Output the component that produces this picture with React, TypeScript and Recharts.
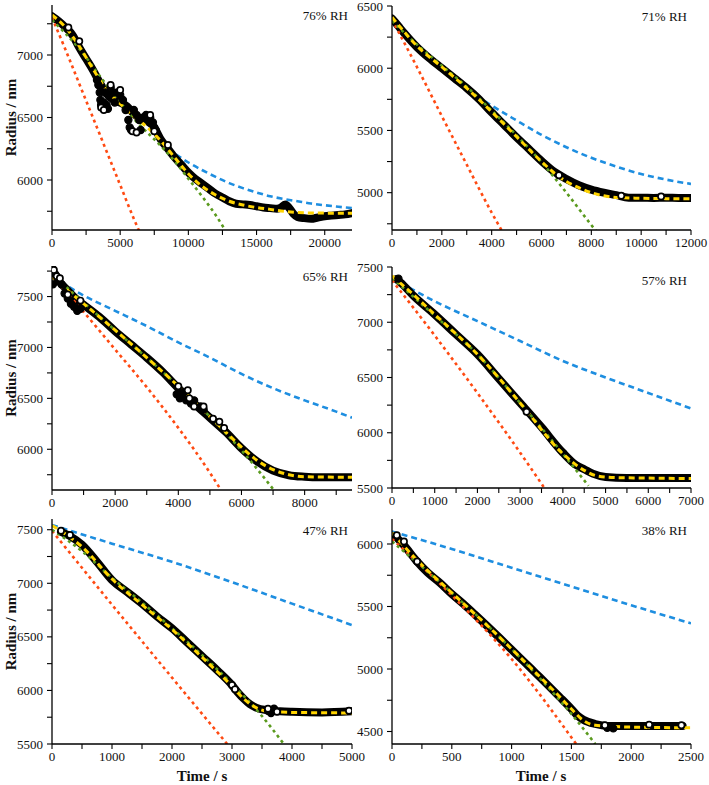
import React from 'react';
import { ComposedChart, Line, Scatter, XAxis, YAxis } from 'recharts';

type Pt = [number, number];

// ---------- Panel 1 : 76% RH ----------
const P1_DATA: Pt[] = [[0,7310],[500,7270],[1000,7220],[1500,7160],[2000,7060],[2500,6970],[3000,6880],[3500,6780],[4000,6690],[4500,6640],[5000,6620],[5500,6590],[6000,6530],[6500,6490],[7000,6470],[7500,6420],[8000,6320],[8500,6250],[9000,6180],[9500,6120],[10000,6060],[10500,6010],[11000,5970],[11500,5930],[12000,5890],[12500,5860],[13000,5830],[13500,5810],[14000,5805],[14500,5800],[15000,5790],[15500,5780],[16000,5775],[16500,5770],[16800,5780],[17100,5805],[17400,5775],[17700,5730],[18000,5705],[18500,5695],[19000,5690],[19500,5700],[20000,5710],[20500,5715],[21000,5720],[21500,5725],[22000,5735]];
const P1_NOISE: Pt[] = [[3300,6800],[3400,6760],[3500,6700],[3550,6640],[3600,6600],[3700,6580],[3800,6620],[3900,6700],[4000,6600],[4100,6570],[4200,6680],[4300,6740],[4500,6700],[4600,6620],[4800,6700],[5000,6680],[5200,6640],[5400,6560],[5600,6480],[5700,6420],[5800,6400],[6000,6560],[6200,6520],[6400,6480],[6500,6400],[6700,6500],[6900,6520],[7100,6480],[7200,6500],[7400,6460],[7500,6420],[7600,6400]];
const P1_OPEN: Pt[] = [[1200,7220],[2000,7110],[3600,6580],[3800,6560],[4300,6760],[5000,6720],[5900,6390],[6200,6380],[7200,6520],[7500,6390],[8500,6280]];
const P1_FIT: Pt[] = [[0,7320],[1000,7220],[2000,7070],[3000,6890],[4000,6720],[5000,6610],[6000,6510],[7000,6420],[8000,6310],[9000,6180],[10000,6050],[11000,5950],[12000,5880],[13000,5830],[14000,5800],[15000,5780],[16000,5765],[17000,5750],[18000,5740],[20000,5735],[22000,5735]];
const P1_GREEN: Pt[] = [[0,7280],[2000,7050],[4000,6760],[6000,6490],[8000,6270],[9000,6150],[10000,6010],[11000,5870],[12000,5720],[12700,5600]];
const P1_RED: Pt[] = [[0,7300],[1000,7040],[2000,6770],[3000,6500],[4000,6230],[5000,5960],[6000,5690],[6400,5590]];
const P1_BLUE: Pt[] = [[8500,6250],[10000,6140],[11000,6080],[12000,6025],[13000,5975],[14000,5935],[15000,5900],[16000,5870],[17000,5848],[18000,5830],[19000,5812],[20000,5798],[21000,5786],[22000,5776]];
const P1_XTICKS = [0,2500,5000,7500,10000,12500,15000,17500,20000];
const P1_YTICKS = [5750,6000,6250,6500,6750,7000,7250];

// ---------- Panel 2 : 71% RH ----------
const P2_DATA: Pt[] = [[0,6400],[250,6340],[500,6280],[1000,6170],[1500,6080],[2000,6000],[2500,5920],[3000,5840],[3500,5750],[4000,5645],[4500,5545],[5000,5445],[5500,5350],[6000,5255],[6500,5170],[7000,5110],[7500,5060],[8000,5025],[8500,5000],[9000,4980],[9500,4960],[10000,4960],[10500,4958],[11000,4960],[11500,4958],[12000,4958]];
const P2_NOISE: Pt[] = [];
const P2_OPEN: Pt[] = [[6700,5140],[9200,4975],[10800,4970]];
const P2_FIT: Pt[] = [[0,6410],[500,6290],[1000,6180],[2000,6010],[3000,5840],[4000,5650],[5000,5450],[6000,5250],[6500,5160],[7000,5090],[7500,5040],[8000,5000],[8500,4975],[9000,4962],[10000,4955],[11000,4952],[12000,4950]];
const P2_GREEN: Pt[] = [[0,6380],[1000,6190],[2000,6020],[3000,5850],[4000,5660],[5000,5460],[6000,5245],[7000,5000],[8000,4740],[8200,4690]];
const P2_RED: Pt[] = [[0,6390],[1000,6010],[2000,5615],[3000,5225],[4000,4840],[4450,4680]];
const P2_BLUE: Pt[] = [[3400,5780],[4000,5700],[5000,5580],[6000,5465],[7000,5365],[8000,5280],[9000,5210],[10000,5150],[11000,5105],[12000,5070]];
const P2_XTICKS = [0,1000,2000,3000,4000,5000,6000,7000,8000,9000,10000,11000,12000];
const P2_YTICKS = [4750,5000,5250,5500,5750,6000,6250,6500];

// ---------- Panel 3 : 65% RH ----------
const P3_DATA: Pt[] = [[0,7720],[100,7700],[250,7640],[500,7560],[750,7480],[1000,7420],[1500,7300],[2000,7160],[2500,7030],[3000,6900],[3500,6760],[4000,6600],[4500,6450],[5000,6310],[5500,6170],[6000,6010],[6250,5940],[6500,5880],[7000,5790],[7500,5745],[8000,5730],[8500,5725],[9500,5725]];
const P3_NOISE: Pt[] = [[0,7780],[30,7620],[100,7720],[200,7660],[300,7620],[400,7530],[500,7480],[600,7430],[700,7400],[800,7360],[900,7380],[3950,6540],[4050,6500],[4150,6560],[4250,6480],[4400,6450],[4500,6480],[4700,6420],[4800,6390]];
const P3_OPEN: Pt[] = [[60,7760],[150,7700],[250,7680],[500,7520],[900,7460],[4000,6620],[4300,6580],[4350,6500],[4500,6420],[4800,6420],[5100,6300],[5300,6270],[5450,6210]];
const P3_FIT: Pt[] = [[0,7700],[500,7560],[1000,7430],[2000,7170],[3000,6900],[4000,6620],[5000,6320],[5500,6170],[6000,6020],[6500,5890],[7000,5800],[7500,5750],[8000,5730],[9500,5725]];
const P3_GREEN: Pt[] = [[0,7720],[1000,7440],[2000,7170],[3000,6900],[4000,6620],[5000,6320],[6000,5990],[7000,5610]];
const P3_RED: Pt[] = [[0,7700],[1000,7350],[2000,6980],[3000,6610],[4000,6210],[5000,5770],[5350,5600]];
const P3_BLUE: Pt[] = [[0,7690],[500,7600],[1000,7510],[2000,7360],[3000,7210],[4000,7050],[5000,6900],[6000,6740],[7000,6600],[8000,6480],[9000,6370],[9500,6310]];
const P3_XTICKS = [0,1000,2000,3000,4000,5000,6000,7000,8000,9000];
const P3_YTICKS = [5750,6000,6250,6500,6750,7000,7250,7500,7750];

// ---------- Panel 4 : 57% RH ----------
const P4_DATA: Pt[] = [[100,7390],[200,7360],[500,7240],[1000,7070],[1500,6890],[2000,6710],[2500,6490],[3000,6270],[3500,6050],[4000,5820],[4300,5710],[4500,5670],[4700,5630],[5000,5600],[5500,5590],[6000,5590],[7000,5590]];
const P4_NOISE: Pt[] = [[150,7395]];
const P4_OPEN: Pt[] = [[3150,6190]];
const P4_FIT: Pt[] = [[0,7420],[500,7250],[1000,7070],[2000,6710],[3000,6270],[4000,5810],[4500,5660],[4800,5610],[5200,5595],[6000,5590],[7000,5585]];
const P4_GREEN: Pt[] = [[0,7400],[1000,7060],[2000,6710],[3000,6270],[4000,5810],[4600,5520]];
const P4_RED: Pt[] = [[0,7380],[1000,6880],[2000,6360],[3000,5820],[3550,5510]];
const P4_BLUE: Pt[] = [[0,7400],[1000,7190],[2000,7010],[3000,6830],[4000,6650],[5000,6500],[6000,6360],[7000,6220]];
const P4_XTICKS = [0,500,1000,1500,2000,2500,3000,3500,4000,4500,5000,5500,6000,6500,7000];
const P4_YTICKS = [5500,5750,6000,6250,6500,6750,7000,7250,7500];

// ---------- Panel 5 : 47% RH ----------
const P5_DATA: Pt[] = [[150,7480],[300,7440],[500,7360],[750,7200],[1000,7030],[1250,6920],[1500,6810],[1750,6690],[2000,6580],[2250,6450],[2500,6320],[2750,6190],[3000,6050],[3100,5980],[3200,5920],[3300,5870],[3400,5840],[3600,5815],[3800,5805],[4000,5800],[4500,5795],[5000,5805]];
const P5_NOISE: Pt[] = [[3600,5810],[3650,5790],[3700,5830]];
const P5_OPEN: Pt[] = [[150,7490],[300,7450],[3000,6050],[3050,6010],[3600,5830],[3750,5800],[4950,5810]];
const P5_FIT: Pt[] = [[0,7540],[250,7450],[500,7340],[1000,7040],[1500,6800],[2000,6570],[2500,6310],[3000,6040],[3200,5920],[3400,5840],[3600,5805],[4000,5795],[5000,5790]];
const P5_GREEN: Pt[] = [[0,7500],[500,7300],[1000,7050],[1500,6820],[2000,6580],[2500,6330],[3000,6060],[3500,5760],[3850,5510]];
const P5_RED: Pt[] = [[0,7490],[1000,6800],[2000,6120],[2920,5500]];
const P5_BLUE: Pt[] = [[0,7545],[1000,7370],[2000,7200],[3000,7010],[4000,6810],[5000,6610]];
const P5_XTICKS = [0,500,1000,1500,2000,2500,3000,3500,4000,4500,5000];
const P5_YTICKS = [5500,5750,6000,6250,6500,6750,7000,7250,7500];

// ---------- Panel 6 : 38% RH ----------
const P6_DATA: Pt[] = [[30,6060],[100,5990],[200,5870],[300,5770],[400,5690],[500,5600],[600,5518],[700,5430],[800,5340],[900,5248],[1000,5155],[1100,5062],[1200,4968],[1300,4874],[1400,4778],[1500,4680],[1550,4628],[1600,4594],[1700,4560],[1800,4545],[2000,4545],[2200,4545],[2430,4545]];
const P6_NOISE: Pt[] = [[1800,4530],[1850,4525]];
const P6_OPEN: Pt[] = [[40,6070],[100,6020],[210,5860],[1780,4550],[2150,4555],[2420,4550]];
const P6_FIT: Pt[] = [[0,6090],[200,5880],[500,5610],[800,5345],[1000,5160],[1200,4972],[1400,4780],[1500,4680],[1600,4588],[1700,4550],[2000,4535],[2500,4530]];
const P6_GREEN: Pt[] = [[0,6020],[500,5610],[1000,5160],[1500,4640],[1700,4400]];
const P6_RED: Pt[] = [[0,6040],[500,5590],[1000,5080],[1540,4400]];
const P6_BLUE: Pt[] = [[0,6100],[500,5960],[1000,5810],[1500,5660],[2000,5510],[2500,5365]];
const P6_XTICKS = [0,250,500,750,1000,1250,1500,1750,2000,2250,2500];
const P6_YTICKS = [4500,4750,5000,5250,5500,5750,6000];

const RH_LABELS = ['76% RH', '71% RH', '65% RH', '57% RH', '47% RH', '38% RH'];
const X_TITLE = 'Time / s';
const Y_TITLE = 'Radius / nm';

const FONT = "'Liberation Serif', 'Times New Roman', Times, serif";
const BLUE = '#1E8EE0';
const RED = '#FF4A12';
const GREEN = '#5A9A1E';
const YELLOW = '#FFD400';

const mk = (pts: Pt[]) => pts.map(([t, r]) => ({ t, r }));

interface Spec {
  label: string;
  data: Pt[]; noise: Pt[]; open: Pt[]; fit: Pt[]; green: Pt[]; red: Pt[]; blue: Pt[];
  xDomain: [number, number]; yDomain: [number, number];
  xTicks: number[]; yTicks: number[]; xMajor: number; yMajor: number;
  left: number; plotTop: number; plotBottom: number; yAxisWidth: number;
  labelDy: number;
}

const MARGIN_TOP = 10;
const X_AXIS_H = 30;
const LEFT_W = 380;
const RIGHT_W = 366;

const SPECS: Spec[] = [
  { label: RH_LABELS[0], data: P1_DATA, noise: P1_NOISE, open: P1_OPEN, fit: P1_FIT, green: P1_GREEN, red: P1_RED, blue: P1_BLUE,
    xDomain: [0, 22000], yDomain: [5600, 7400], xTicks: P1_XTICKS, yTicks: P1_YTICKS, xMajor: 5000, yMajor: 500,
    left: 0, plotTop: 5, plotBottom: 230, yAxisWidth: 52, labelDy: 15 },
  { label: RH_LABELS[1], data: P2_DATA, noise: P2_NOISE, open: P2_OPEN, fit: P2_FIT, green: P2_GREEN, red: P2_RED, blue: P2_BLUE,
    xDomain: [0, 12000], yDomain: [4700, 6500], xTicks: P2_XTICKS, yTicks: P2_YTICKS, xMajor: 2000, yMajor: 500,
    left: 352, plotTop: 6, plotBottom: 230, yAxisWidth: 40, labelDy: 15 },
  { label: RH_LABELS[2], data: P3_DATA, noise: P3_NOISE, open: P3_OPEN, fit: P3_FIT, green: P3_GREEN, red: P3_RED, blue: P3_BLUE,
    xDomain: [0, 9500], yDomain: [5600, 7800], xTicks: P3_XTICKS, yTicks: P3_YTICKS, xMajor: 2000, yMajor: 500,
    left: 0, plotTop: 266, plotBottom: 490, yAxisWidth: 52, labelDy: 15 },
  { label: RH_LABELS[3], data: P4_DATA, noise: P4_NOISE, open: P4_OPEN, fit: P4_FIT, green: P4_GREEN, red: P4_RED, blue: P4_BLUE,
    xDomain: [0, 7000], yDomain: [5500, 7500], xTicks: P4_XTICKS, yTicks: P4_YTICKS, xMajor: 1000, yMajor: 500,
    left: 352, plotTop: 267, plotBottom: 488, yAxisWidth: 40, labelDy: 18 },
  { label: RH_LABELS[4], data: P5_DATA, noise: P5_NOISE, open: P5_OPEN, fit: P5_FIT, green: P5_GREEN, red: P5_RED, blue: P5_BLUE,
    xDomain: [0, 5000], yDomain: [5500, 7600], xTicks: P5_XTICKS, yTicks: P5_YTICKS, xMajor: 1000, yMajor: 500,
    left: 0, plotTop: 519, plotBottom: 744, yAxisWidth: 52, labelDy: 16 },
  { label: RH_LABELS[5], data: P6_DATA, noise: P6_NOISE, open: P6_OPEN, fit: P6_FIT, green: P6_GREEN, red: P6_RED, blue: P6_BLUE,
    xDomain: [0, 2500], yDomain: [4400, 6200], xTicks: P6_XTICKS, yTicks: P6_YTICKS, xMajor: 500, yMajor: 500,
    left: 352, plotTop: 519, plotBottom: 744, yAxisWidth: 40, labelDy: 16 },
];

const tickStyle = { fontSize: 13, fill: '#111', fontFamily: FONT };

const filledShape = (props: any) => (
  <circle cx={props.cx} cy={props.cy} r={3.6} fill="#000" stroke="#000" strokeWidth={1.2} />
);
const openShape = (props: any) => (
  <circle cx={props.cx} cy={props.cy} r={3.1} fill="#fff" stroke="#000" strokeWidth={1.7} />
);

const plotRightOf = (s: Spec) => (s.left === 0 ? 352 : 691);

function Panel({ s }: { s: Spec }) {
  const width = s.left === 0 ? LEFT_W : RIGHT_W;
  const rightMargin = width - (plotRightOf(s) - s.left);
  const top = s.plotTop - MARGIN_TOP;
  const height = s.plotBottom - top + X_AXIS_H;
  return (
    <div style={{ position: 'absolute', left: s.left, top, fontFamily: FONT }}>
      <ComposedChart width={width} height={height}
        margin={{ top: MARGIN_TOP, right: rightMargin, bottom: 0, left: 0 }}>
        <XAxis dataKey="t" type="number" domain={s.xDomain} ticks={s.xTicks} interval={0}
          allowDataOverflow height={X_AXIS_H} tickSize={5} tickMargin={3}
          tickFormatter={(v: number) => (v % s.xMajor === 0 ? String(v) : '')}
          tick={tickStyle} axisLine={{ stroke: '#000', strokeWidth: 1.3 }} tickLine={{ stroke: '#000', strokeWidth: 1.1 }} />
        <XAxis xAxisId="top" orientation="top" type="number" domain={s.xDomain} height={0}
          tick={false} tickLine={false} axisLine={{ stroke: '#000', strokeWidth: 1.3 }} />
        <YAxis dataKey="r" type="number" domain={s.yDomain} ticks={s.yTicks} interval={0}
          allowDataOverflow width={s.yAxisWidth} tickSize={5} tickMargin={4}
          tickFormatter={(v: number) => (v % s.yMajor === 0 ? String(v) : '')}
          tick={tickStyle} axisLine={{ stroke: '#000', strokeWidth: 1.3 }} tickLine={{ stroke: '#000', strokeWidth: 1.1 }} />
        <YAxis yAxisId="right" orientation="right" type="number" domain={s.yDomain} width={0}
          tick={false} tickLine={false} axisLine={{ stroke: '#000', strokeWidth: 1.3 }} />
        <Line data={mk(s.blue)} dataKey="r" type="monotone" stroke={BLUE} strokeWidth={2.6}
          strokeDasharray="6 4" dot={false} activeDot={false} isAnimationActive={false} />
        <Line data={mk(s.data)} dataKey="r" type="monotone" stroke="#000" strokeWidth={8}
          strokeLinecap="round" strokeLinejoin="round" dot={false} activeDot={false} isAnimationActive={false} />
        <Scatter data={mk(s.noise)} dataKey="r" shape={filledShape} isAnimationActive={false} />
        <Scatter data={mk(s.open)} dataKey="r" shape={openShape} isAnimationActive={false} />
        <Line data={mk(s.red)} dataKey="r" type="monotone" stroke={RED} strokeWidth={2.6}
          strokeDasharray="3 3.5" dot={false} activeDot={false} isAnimationActive={false} />
        <Line data={mk(s.green)} dataKey="r" type="monotone" stroke={GREEN} strokeWidth={2.6}
          strokeDasharray="3 3.5" dot={false} activeDot={false} isAnimationActive={false} />
        <Line data={mk(s.fit)} dataKey="r" type="monotone" stroke={YELLOW} strokeWidth={3}
          strokeDasharray="6 4" dot={false} activeDot={false} isAnimationActive={false} />
      </ComposedChart>
    </div>
  );
}

export default function App() {
  return (
    <div style={{ position: 'absolute', left: 0, top: 0, width: 709, height: 785, overflow: 'hidden', background: '#fff', fontFamily: FONT }}>
      {SPECS.map((s, i) => <Panel key={i} s={s} />)}
      <svg width={709} height={785} style={{ position: 'absolute', left: 0, top: 0, pointerEvents: 'none' }}>
        {SPECS.map((s, i) => (
          <text key={'rh' + i} x={plotRightOf(s) - 4} y={s.plotTop + s.labelDy} textAnchor="end"
            style={{ fontFamily: FONT, fontSize: 13 }} fill="#111">{s.label}</text>
        ))}
        {SPECS.filter((s) => s.left === 0).map((s, i) => {
          const cy = (s.plotTop + s.plotBottom) / 2;
          return (
            <text key={'yt' + i} x={11} y={cy} transform={`rotate(-90 11 ${cy})`} textAnchor="middle"
              dominantBaseline="central" style={{ fontFamily: FONT, fontWeight: 'bold', fontSize: 15 }} fill="#111">{Y_TITLE}</text>
          );
        })}
        <text x={202} y={781} textAnchor="middle" style={{ fontFamily: FONT, fontWeight: 'bold', fontSize: 15 }} fill="#111">{X_TITLE}</text>
        <text x={541} y={781} textAnchor="middle" style={{ fontFamily: FONT, fontWeight: 'bold', fontSize: 15 }} fill="#111">{X_TITLE}</text>
      </svg>
    </div>
  );
}
